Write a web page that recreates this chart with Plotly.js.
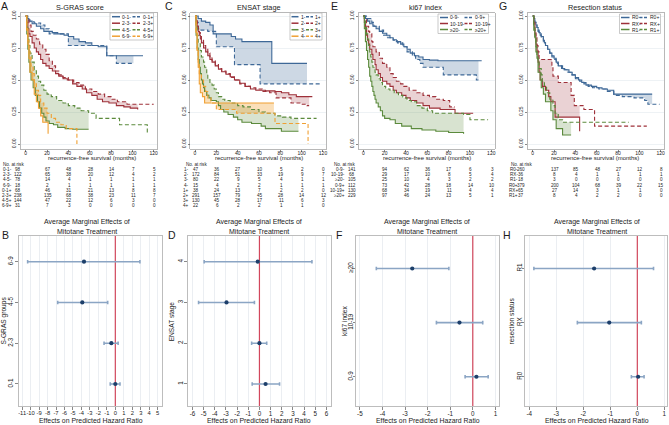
<!DOCTYPE html>
<html><head><meta charset="utf-8">
<script src="https://cdn.plot.ly/plotly-3.0.1.min.js"></script>
<style>html,body{margin:0;padding:0;background:#fff}#chart{width:669px;height:425px}</style>
</head><body><div id="chart"></div>
<script>
// ---------------- DATA ----------------
const riskTimes = [0, 20, 40, 60, 80, 100, 120];
const survTicks = [0, 0.25, 0.5, 0.75, 1];
const survTickText = ['0.00', '0.25', '0.50', '0.75', '1.00'];

// A: S-GRAS score  (Kaplan-Meier [months, survival])
const sgrasGroups = ['0-1', '2-3', '4-5', '6-9'];
const km_sgras_01_m = [[0,1],[1,0.98],[3,0.96],[6,0.94],[10,0.92],[14,0.90],[17,0.88],[25,0.87],[30,0.86],[36,0.85],[40,0.84],[45,0.82],[50,0.80],[56,0.79],[62,0.77],[68,0.76],[76,0.69],[110,0.69]];
const km_sgras_01_p = [[0,1],[2,0.97],[4,0.955],[8,0.945],[14,0.93],[18,0.90],[22,0.86],[40,0.77],[76,0.69],[85,0.63],[101,0.63]];
const km_sgras_23_m = [[0,1],[1,0.95],[2,0.90],[3,0.86],[4,0.84],[6,0.79],[8,0.75],[10,0.72],[12,0.70],[14,0.66],[16,0.63],[19,0.61],[22,0.59],[25,0.57],[28,0.55],[31,0.53],[35,0.51],[39,0.50],[44,0.47],[48,0.45],[53,0.43],[57,0.40],[62,0.38],[67,0.35],[72,0.33],[78,0.32],[85,0.30],[92,0.29],[98,0.28],[105,0.27]];
const km_sgras_23_p = [[0,1],[1,0.97],[3,0.93],[5,0.88],[7,0.85],[10,0.82],[13,0.78],[16,0.74],[19,0.70],[22,0.65],[25,0.61],[28,0.57],[31,0.54],[35,0.52],[40,0.50],[45,0.48],[50,0.46],[56,0.43],[62,0.41],[68,0.39],[74,0.37],[80,0.35],[86,0.33],[95,0.31],[120,0.31]];
const km_sgras_45_m = [[0,1],[1,0.86],[2,0.74],[3,0.64],[4,0.56],[5,0.50],[7,0.44],[9,0.38],[11,0.33],[13,0.28],[15,0.24],[17,0.21],[19,0.18],[22,0.16],[26,0.15],[30,0.13],[37,0.12],[44,0.115],[59,0.115]];
const km_sgras_45_p = [[0,1],[1,0.92],[2,0.84],[3,0.77],[4,0.71],[6,0.64],[8,0.58],[10,0.53],[12,0.49],[14,0.46],[17,0.42],[20,0.39],[24,0.37],[29,0.34],[35,0.32],[40,0.30],[46,0.28],[52,0.26],[59,0.24],[66,0.20],[88,0.15],[114,0.08],[115,0.08]];
const km_sgras_69_m = [[0,1],[1,0.89],[2,0.78],[3,0.67],[4,0.56],[6,0.50],[8,0.39],[10,0.33],[12,0.28],[14,0.22],[16,0.17],[21,0.08]];
const km_sgras_69_p = [[0,1],[1,0.90],[2,0.81],[3,0.74],[4,0.68],[5,0.61],[7,0.55],[8,0.48],[10,0.42],[12,0.38],[14,0.32],[17,0.28],[20,0.24],[24,0.20],[28,0.17],[33,0.15],[38,0.12],[48,0.12],[48,0]];
const riskLabels_sgras = ['0-1-', '2-3-', '4-5-', '6-9-', '0-1+', '2-3+', '4-5+', '6-9+'];
const risk_sgras = [[98,67,48,28,14,7,5],[122,65,38,20,12,4,2],[78,14,4,1,1,1,1],[18,2,1,1,1,1,1],[68,46,31,21,13,8,8],[238,135,68,38,23,11,7],[144,47,22,12,6,3,0],[31,7,3,0,0,0,0]];

// C: ENSAT stage
const ensatGroups = ['1', '2', '3', '4'];
const km_ensat_1_m = [[0,1],[3,0.98],[6,0.96],[10,0.95],[14,0.93],[17,0.86],[34,0.84],[38,0.82],[44,0.80],[72,0.63],[105,0.63]];
const km_ensat_1_p = [[0,1],[1,0.95],[3,0.89],[12,0.88],[20,0.76],[37,0.62],[61,0.47],[119,0.47]];
const km_ensat_2_m = [[0,1],[1,0.96],[2,0.92],[3,0.88],[4,0.85],[5,0.82],[6,0.79],[8,0.75],[10,0.72],[12,0.69],[14,0.66],[16,0.64],[19,0.61],[22,0.585],[25,0.565],[29,0.545],[33,0.525],[37,0.50],[42,0.475],[47,0.45],[52,0.43],[57,0.42],[66,0.415],[75,0.41],[81,0.40],[88,0.385],[95,0.37],[110,0.37]];
const km_ensat_2_p = [[0,1],[1,0.97],[2,0.93],[3,0.90],[4,0.87],[5,0.84],[6,0.81],[8,0.77],[10,0.74],[12,0.71],[14,0.68],[16,0.65],[19,0.62],[22,0.59],[25,0.57],[29,0.55],[33,0.52],[37,0.50],[42,0.47],[47,0.45],[52,0.44],[57,0.43],[63,0.41],[70,0.40],[76,0.36],[90,0.32],[100,0.31],[105,0.30],[107,0.30]];
const km_ensat_3_m = [[0,1],[1,0.85],[2,0.75],[3,0.66],[4,0.60],[5,0.55],[6,0.50],[7,0.47],[8,0.44],[9,0.41],[11,0.38],[13,0.36],[15,0.34],[20,0.33],[22,0.30],[24,0.27],[27,0.25],[31,0.23],[36,0.21],[40,0.19],[44,0.17],[53,0.16],[62,0.14],[66,0.12],[81,0.10],[97,0.10]];
const km_ensat_3_p = [[0,1],[1,0.92],[2,0.85],[3,0.79],[5,0.73],[6,0.68],[8,0.64],[9,0.60],[11,0.55],[12,0.51],[14,0.48],[16,0.46],[18,0.43],[20,0.40],[22,0.37],[25,0.35],[28,0.34],[33,0.32],[40,0.30],[45,0.29],[52,0.27],[60,0.25],[66,0.24],[75,0.22],[82,0.21],[90,0.20],[114,0.20]];
const km_ensat_4_m = [[0,1],[1,0.87],[2,0.73],[3,0.60],[4,0.47],[5,0.40],[7,0.37],[9,0.32],[74,0.32]];
const km_ensat_4_p = [[0,1],[1,0.86],[2,0.73],[3,0.64],[4,0.55],[6,0.50],[8,0.45],[10,0.41],[12,0.36],[15,0.32],[20,0.27],[39,0.24],[75,0.16],[106,0.16],[106,0]];
const riskLabels_ensat = ['1-', '2-', '3-', '4-', '1+', '2+', '3+', '4+'];
const risk_ensat = [[47,36,27,10,5,2,0],[172,84,51,33,19,9,7],[80,22,9,5,4,1,1],[15,4,2,2,1,1,1],[38,24,13,7,2,2,0],[291,157,79,45,28,14,12],[130,45,28,17,11,6,3],[22,6,2,2,1,1,0]];

// E: ki67 index
const ki67Groups = ['0-9', '10-19', '≥20'];
const km_ki67_09_m = [[0,1],[2,0.98],[4,0.96],[6,0.94],[9,0.92],[12,0.90],[15,0.88],[18,0.865],[22,0.85],[25,0.83],[28,0.815],[31,0.80],[35,0.78],[38,0.76],[41,0.74],[44,0.71],[48,0.69],[52,0.68],[56,0.66],[62,0.655],[70,0.65],[111,0.65]];
const km_ki67_09_p = [[0,1],[3,0.98],[8,0.95],[10,0.92],[15,0.89],[19,0.85],[22,0.83],[28,0.81],[32,0.79],[37,0.76],[41,0.72],[46,0.69],[49,0.66],[53,0.63],[56,0.60],[75,0.54],[106,0.50],[108,0.50]];
const km_ki67_1019_m = [[0,1],[1,0.95],[2,0.90],[3,0.85],[4,0.81],[5,0.78],[6,0.74],[8,0.70],[9,0.66],[11,0.62],[12,0.58],[14,0.55],[16,0.52],[18,0.49],[22,0.47],[25,0.45],[28,0.42],[31,0.40],[36,0.38],[40,0.36],[44,0.34],[50,0.32],[56,0.30],[62,0.28],[72,0.27],[86,0.24],[103,0.24]];
const km_ki67_1019_p = [[0,1],[1,0.97],[3,0.92],[5,0.88],[6,0.86],[8,0.80],[9,0.76],[12,0.72],[15,0.67],[18,0.63],[22,0.60],[25,0.55],[28,0.52],[31,0.49],[35,0.47],[38,0.45],[43,0.42],[50,0.40],[56,0.38],[62,0.37],[68,0.35],[75,0.34],[81,0.29],[86,0.29]];
const km_ki67_20_m = [[0,1],[1,0.90],[2,0.80],[3,0.73],[4,0.66],[5,0.60],[6,0.53],[7,0.49],[8,0.45],[9,0.41],[10,0.38],[11,0.35],[12,0.32],[14,0.29],[16,0.26],[18,0.22],[20,0.20],[25,0.19],[30,0.16],[36,0.14],[45,0.12],[55,0.11],[68,0.10],[80,0.09],[94,0.08]];
const km_ki67_20_p = [[0,1],[1,0.96],[2,0.91],[3,0.86],[4,0.82],[5,0.77],[6,0.72],[7,0.68],[8,0.64],[9,0.60],[11,0.56],[12,0.54],[14,0.51],[16,0.48],[18,0.45],[21,0.43],[25,0.42],[29,0.40],[33,0.38],[37,0.36],[41,0.34],[45,0.33],[50,0.30],[55,0.28],[60,0.26],[65,0.24],[94,0.23],[100,0.19],[117,0.19]];
const riskLabels_ki67 = ['0-9-', '10-19-', '≥20-', '0-9+', '10-19+', '≥20+'];
const risk_ki67 = [[141,94,62,36,17,6,3],[68,29,17,10,8,5,4],[105,25,10,4,3,2,2],[112,73,42,28,18,14,10],[130,68,34,19,11,4,4],[229,97,46,24,13,5,1]];

// G: Resection status
const resecGroups = ['R0', 'RX', 'R1'];
const km_resec_r0_m = [[0,1],[1,0.98],[2,0.95],[3,0.93],[4,0.91],[5,0.89],[6,0.87],[7,0.85],[8,0.84],[10,0.81],[11,0.79],[12,0.77],[14,0.74],[16,0.71],[18,0.69],[20,0.67],[22,0.64],[24,0.61],[27,0.59],[30,0.58],[34,0.56],[37,0.54],[40,0.52],[43,0.50],[46,0.48],[50,0.46],[55,0.45],[60,0.44],[65,0.43],[70,0.42],[76,0.39],[112,0.39]];
const km_resec_r0_p = [[0,1],[1,0.97],[2,0.95],[3,0.93],[4,0.91],[5,0.88],[6,0.86],[8,0.83],[10,0.80],[12,0.77],[14,0.74],[16,0.71],[18,0.68],[20,0.66],[22,0.63],[24,0.61],[28,0.58],[32,0.56],[36,0.54],[40,0.51],[44,0.49],[48,0.47],[52,0.45],[56,0.44],[62,0.43],[70,0.41],[76,0.38],[84,0.37],[95,0.36],[105,0.34],[108,0.31],[119,0.31]];
const km_resec_rx_m = [[0,1],[1,0.94],[2,0.86],[3,0.78],[4,0.72],[5,0.64],[6,0.56],[7,0.50],[9,0.45],[12,0.42],[15,0.37],[17,0.33],[21,0.21],[44,0.21],[44,0.10]];
const km_resec_rx_p = [[0,1],[1,0.95],[2,0.89],[3,0.83],[4,0.77],[5,0.72],[6,0.66],[18,0.60],[19,0.53],[24,0.48],[36,0.38],[39,0.30],[48,0.27],[58,0.14],[107,0.14]];
const km_resec_r1_m = [[0,1],[1,0.89],[2,0.83],[3,0.72],[4,0.67],[5,0.56],[7,0.50],[8,0.44],[10,0.39],[12,0.33],[17,0.26],[19,0.19],[22,0.12],[28,0.07],[36,0.07]];
const km_resec_r1_p = [[0,1],[1,0.92],[2,0.84],[3,0.76],[4,0.70],[5,0.65],[6,0.59],[8,0.54],[9,0.49],[11,0.45],[13,0.40],[16,0.35],[19,0.30],[21,0.24],[24,0.19],[28,0.17],[90,0.17]];
const riskLabels_resec = ['R0-', 'RX-', 'R1-', 'R0+', 'RX+', 'R1+'];
const risk_resec = [[260,137,85,48,27,12,8],[36,8,4,1,1,1,1],[18,3,0,0,0,0,0],[379,200,104,68,39,22,15],[65,27,14,3,1,1,0],[37,8,4,2,2,0,0]];

// Average marginal effects of mitotane treatment
const ame_sgras_cats = ['0-1', '2-3', '4-5', '6-9'];
const ame_sgras_est = [0.0, -0.47, -3.9, -3.7];
const ame_sgras_lo = [-0.6, -1.33, -6.8, -10.35];
const ame_sgras_hi = [0.55, 0.33, -0.9, 2.9];
const ame_sgras_xticks = [-11,-10,-9,-8,-7,-6,-5,-4,-3,-2,-1,0,1,2,3,4,5];

const ame_ensat_cats = ['1', '2', '3', '4'];
const ame_ensat_est = [0.55, 0.0, -2.95, -0.15];
const ame_ensat_lo = [-0.65, -0.7, -5.45, -4.95];
const ame_ensat_hi = [1.8, 0.65, -0.45, 4.7];
const ame_ensat_xticks = [-6,-5,-4,-3,-2,-1,0,1,2,3,4,5,6];

const ame_ki67_cats = ['0-9', '10-19', '≥20'];
const ame_ki67_est = [0.16, -0.59, -2.68];
const ame_ki67_lo = [-0.34, -1.61, -4.27];
const ame_ki67_hi = [0.68, 0.44, -1.06];
const ame_ki67_xticks = [-5,-4,-3,-2,-1,0,1];

const ame_resec_cats = ['R0', 'RX', 'R1'];
const ame_resec_est = [0.03, -1.04, -1.6];
const ame_resec_lo = [-0.22, -2.22, -3.83];
const ame_resec_hi = [0.25, 0.15, 0.6];
const ame_resec_xticks = [-4,-3,-2,-1,0,1];

// ---------------- STYLE / LAYOUT ----------------
const W = 669, H = 425;
const FONT = '"Liberation Sans", Arial, sans-serif';
const TXT = '#1c1c1c';
const px = v => v / W;
const py = v => 1 - v / H;
const colors = ['#3e6897', '#9e3039', '#5b8a3c', '#f0a033'];
const fills = ['rgba(62,104,151,0.26)', 'rgba(158,48,57,0.22)', 'rgba(91,138,60,0.24)', 'rgba(240,160,51,0.34)'];

const topPanels = [
  { letter: 'A', letterX: 4.5, title: 'S-GRAS score', titleX: 80, xTitleX: 92, dom: [21, 157],
    groups: sgrasGroups,
    curves: [[km_sgras_01_m, km_sgras_01_p], [km_sgras_23_m, km_sgras_23_p], [km_sgras_45_m, km_sgras_45_p], [km_sgras_69_m, km_sgras_69_p]],
    leg: { box: [110, 153.5, 13, 40], y0: 16.7, dy: 6.5, s: [112, 120], ts: 121.2, d: [132.5, 140.5], td: 141.7 },
    riskLabels: riskLabels_sgras, risk: risk_sgras, tab: { headX: 1.5, labelRight: 12.5, firstShift: -8 } },
  { letter: 'C', letterX: 169, title: 'ENSAT stage', titleX: 258.5, xTitleX: 259, dom: [190.3, 326.3],
    groups: ensatGroups,
    curves: [[km_ensat_1_m, km_ensat_1_p], [km_ensat_2_m, km_ensat_2_p], [km_ensat_3_m, km_ensat_3_p], [km_ensat_4_m, km_ensat_4_p]],
    leg: { box: [290, 322, 13, 40], y0: 16.7, dy: 6.5, s: [291.5, 298.5], ts: 299.5, d: [306, 313], td: 314 },
    riskLabels: riskLabels_ensat, risk: risk_ensat, tab: { headX: 185, labelRight: 189.5, firstShift: 0.5 } },
  { letter: 'E', letterX: 334, title: 'ki67 index', titleX: 425, xTitleX: 427, dom: [358.6, 494.6],
    groups: ki67Groups,
    curves: [[km_ki67_09_m, km_ki67_09_p], [km_ki67_1019_m, km_ki67_1019_p], [km_ki67_20_m, km_ki67_20_p]],
    leg: { box: [438, 488.5, 14, 33.5], y0: 17.5, dy: 6, s: [440, 448], ts: 449.3, d: [464.5, 472.5], td: 473.8 },
    riskLabels: riskLabels_ki67, risk: risk_ki67, tab: { headX: 333, labelRight: 345.5, firstShift: -11 } },
  { letter: 'G', letterX: 503, title: 'Resection status', titleX: 595, xTitleX: 594.5, dom: [528, 664],
    groups: resecGroups,
    curves: [[km_resec_r0_m, km_resec_r0_p], [km_resec_rx_m, km_resec_rx_p], [km_resec_r1_m, km_resec_r1_p]],
    leg: { box: [619.5, 660.5, 14, 33.5], y0: 17.5, dy: 6, s: [621, 629.5], ts: 630.8, d: [639.5, 648], td: 649.3 },
    riskLabels: riskLabels_resec, risk: risk_resec, tab: { headX: 509.5, labelRight: 518.5, firstShift: -11.5 } }
];

const bottomPanels = [
  { letter: 'B', letterX: 5, titleX: 87, xTitleX: 90.5, yTitle: 'S-GRAS groups', yTitleX: 3.6, dom: [19, 162], xr: [-11.37, 5.51], yr: [0.46, 4.63],
    xtf: 5.8, ylen: 3, ystand: -1,
    cats: ame_sgras_cats, est: ame_sgras_est, lo: ame_sgras_lo, hi: ame_sgras_hi, xticks: ame_sgras_xticks },
  { letter: 'D', letterX: 172, titleX: 259, xTitleX: 259, yTitle: 'ENSAT stage', yTitleX: 172.3, dom: [188.3, 330.7], xr: [-6.37, 6.38], yr: [0.46, 4.63],
    xtf: 6.3, ylen: 3, ystand: -1,
    cats: ame_ensat_cats, est: ame_ensat_est, lo: ame_ensat_lo, hi: ame_ensat_hi, xticks: ame_ensat_xticks },
  { letter: 'F', letterX: 339, titleX: 427, xTitleX: 428, yTitle: 'ki67 index', yTitleX: 344, dom: [356, 499], xr: [-5.17, 1.16], yr: [0.46, 3.6],
    xtf: 6.3, ylen: 2, ystand: -3,
    cats: ame_ki67_cats, est: ame_ki67_est, lo: ame_ki67_lo, hi: ame_ki67_hi, xticks: ame_ki67_xticks },
  { letter: 'H', letterX: 507, titleX: 597, xTitleX: 597, yTitle: 'resection status', yTitleX: 510.5, dom: [524.7, 667.3], xr: [-4.17, 1.11], yr: [0.46, 3.6],
    xtf: 6.3, ylen: 2, ystand: -3,
    cats: ame_resec_cats, est: ame_resec_est, lo: ame_resec_lo, hi: ame_resec_hi, xticks: ame_resec_xticks }
];

const data = [];
const annotations = [];
const shapes = [];
const layout = {
  width: W, height: H, margin: { l: 0, r: 0, t: 0, b: 0, pad: 0 },
  paper_bgcolor: '#ffffff', plot_bgcolor: '#ffffff', showlegend: false,
  font: { family: FONT, color: TXT, size: 6 }, annotations, shapes
};

function note(x, y, text, size, opts) {
  annotations.push(Object.assign({ xref: 'paper', yref: 'paper', x: x, y: y, text: text, showarrow: false,
    xanchor: 'center', yanchor: 'middle', borderpad: 0, font: { size: size, color: TXT, family: FONT } }, opts || {}));
}

// part of a step curve up to time tEnd (last value carried forward)
function upTo(curve, tEnd) {
  const pts = curve.filter(d => d[0] <= tEnd);
  const last = pts[pts.length - 1];
  if (last[0] < tEnd) pts.push([tEnd, last[1]]);
  return pts;
}

// ---- Kaplan-Meier panels ----
topPanels.forEach((p, k) => {
  const id = k === 0 ? '' : String(k + 1);
  const xa = 'x' + id, ya = 'y' + id;
  // shaded difference between "-" and "+" curves, over their common follow-up
  p.curves.forEach((pair, g) => {
    const m = pair[0], pl = pair[1];
    const tEnd = Math.min(m[m.length - 1][0], pl[pl.length - 1][0]);
    const a = upTo(m, tEnd), b = upTo(pl, tEnd);
    data.push({ type: 'scatter', mode: 'lines', xaxis: xa, yaxis: ya, x: a.map(d => d[0]), y: a.map(d => d[1]),
      hoverinfo: 'skip', line: { width: 0, shape: 'hv', color: colors[g] } });
    data.push({ type: 'scatter', mode: 'lines', xaxis: xa, yaxis: ya, x: b.map(d => d[0]), y: b.map(d => d[1]),
      hoverinfo: 'skip', line: { width: 0, shape: 'hv', color: colors[g] }, fill: 'tonexty', fillcolor: fills[g] });
  });
  p.curves.forEach((pair, g) => {
    const m = pair[0], pl = pair[1];
    data.push({ type: 'scatter', mode: 'lines', xaxis: xa, yaxis: ya,
      x: m.map(d => d[0]), y: m.map(d => d[1]), hoverinfo: 'skip',
      line: { color: colors[g], width: 1.1, shape: 'hv' } });
    data.push({ type: 'scatter', mode: 'lines', xaxis: xa, yaxis: ya,
      x: pl.map(d => d[0]), y: pl.map(d => d[1]), hoverinfo: 'skip',
      line: { color: colors[g], width: 1.1, shape: 'hv', dash: '4px,2.5px' } });
  });
  layout['xaxis' + id] = {
    domain: [px(p.dom[0]), px(p.dom[1])], range: [-4.41, 123.1], anchor: ya,
    tickvals: riskTimes, ticktext: riskTimes.map(String), tickangle: 0, ticks: 'outside', ticklen: 2, tickwidth: 0.7, tickcolor: '#555',
    ticklabelstandoff: -3,
    tickfont: { size: 5, color: TXT, family: FONT }, showgrid: false, zeroline: false,
    showline: true, mirror: true, linecolor: '#a6a6a6', linewidth: 0.8, fixedrange: true
  };
  layout['yaxis' + id] = {
    domain: [py(149), py(13)], range: [-0.039, 1.0234], anchor: xa,
    tickvals: survTicks, ticktext: survTickText, tickangle: -90, ticks: 'outside', ticklen: 2, tickwidth: 0.7, tickcolor: '#555',
    tickfont: { size: 5, color: TXT, family: FONT }, showgrid: true, gridcolor: '#e3e9ef', gridwidth: 0.6,
    zeroline: false, showline: true, mirror: true, linecolor: '#a6a6a6', linewidth: 0.8, fixedrange: true
  };
  // titles
  note(px(p.letterX), py(6), p.letter, 10.5);
  note(px(p.titleX), py(7), p.title, 7.3);
  note(px(p.xTitleX), py(158), 'recurrence-free survival (months)', 6);
  // legend
  const L = p.leg;
  shapes.push({ type: 'rect', xref: 'paper', yref: 'paper', x0: px(L.box[0]), x1: px(L.box[1]), y0: py(L.box[3]), y1: py(L.box[2]),
    line: { color: '#b3b3b3', width: 0.7 }, fillcolor: '#ffffff', layer: 'above' });
  p.groups.forEach((nm, g) => {
    const yy = py(L.y0 + g * L.dy);
    shapes.push({ type: 'line', xref: 'paper', yref: 'paper', x0: px(L.s[0]), x1: px(L.s[1]), y0: yy, y1: yy,
      line: { color: colors[g], width: 1.5 }, layer: 'above' });
    shapes.push({ type: 'line', xref: 'paper', yref: 'paper', x0: px(L.d[0]), x1: px(L.d[1]), y0: yy, y1: yy,
      line: { color: colors[g], width: 1.5, dash: '3px,1.5px' }, layer: 'above' });
    note(px(L.ts), yy, nm + '-', 5, { xanchor: 'left' });
    note(px(L.td), yy, nm + '+', 5, { xanchor: 'left' });
  });
  // number at risk table
  const T = p.tab;
  note(px(T.headX), py(164), 'No. at risk', 4.6, { xanchor: 'left' });
  p.riskLabels.forEach((lab, r) => {
    const yy = py(169.5 + r * 5.2);
    note(px(T.labelRight), yy, lab, 4.6, { xanchor: 'right' });
    p.risk[r].forEach((n, c) => {
      annotations.push({ xref: xa, yref: 'paper', x: riskTimes[c], y: yy, text: String(n), showarrow: false,
        xanchor: 'center', yanchor: 'middle', borderpad: 0, xshift: c === 0 ? T.firstShift : 0.8,
        font: { size: 4.6, color: TXT, family: FONT } });
    });
  });
});

// ---- Marginal effects panels ----
bottomPanels.forEach((p, k) => {
  const id = String(k + 5);
  const xa = 'x' + id, ya = 'y' + id;
  const yv = p.cats.map((_, i) => i + 1);
  // reference line at zero (drawn first so it sits under the estimates)
  data.push({ type: 'scatter', mode: 'lines', xaxis: xa, yaxis: ya, x: [0, 0], y: p.yr, hoverinfo: 'skip',
    line: { color: '#d2475c', width: 1.2 } });
  data.push({ type: 'scatter', mode: 'markers', xaxis: xa, yaxis: ya, x: p.est, y: yv, hoverinfo: 'skip',
    marker: { color: '#1d3f6a', size: 4.2, symbol: 'circle' },
    error_x: { type: 'data', symmetric: false, array: p.hi.map((h, i) => h - p.est[i]),
      arrayminus: p.est.map((e, i) => e - p.lo[i]), color: '#8ba5c4', thickness: 1.6, width: 1.8 } });
  layout['xaxis' + id] = {
    domain: [px(p.dom[0]), px(p.dom[1])], range: p.xr, anchor: ya,
    tickvals: p.xticks, ticktext: p.xticks.map(String), tickangle: 0, ticks: 'outside', ticklen: 3, tickwidth: 0.7, tickcolor: '#555',
    ticklabelstandoff: -2,
    tickfont: { size: p.xtf, color: TXT, family: FONT }, showgrid: true, gridcolor: '#e2e7ed', gridwidth: 0.7,
    zeroline: false, showline: true, mirror: true, linecolor: '#bdbdbd', linewidth: 1, fixedrange: true
  };
  layout['yaxis' + id] = {
    domain: [py(406), py(236)], range: p.yr, anchor: xa,
    tickvals: yv, ticktext: p.cats, tickangle: -90, ticks: 'outside', ticklen: p.ylen, tickwidth: 0.7, tickcolor: '#555',
    ticklabelstandoff: p.ystand,
    tickfont: { size: 6.3, color: TXT, family: FONT }, showgrid: false, zeroline: false,
    showline: true, mirror: true, linecolor: '#bdbdbd', linewidth: 1, fixedrange: true
  };
  note(px(p.letterX), py(235), p.letter, 10.5);
  note(px(p.titleX), py(226.6), 'Average Marginal Effects of', 7, { yanchor: 'bottom' });
  note(px(p.titleX), py(226.6), 'Mitotane Treatment', 7, { yanchor: 'top' });
  note(px(p.xTitleX), py(420.5), 'Effects on Predicted Hazard Ratio', 6.9);
  note(px(p.yTitleX), py(321), p.yTitle, 6.6, { textangle: -90 });
});

Plotly.newPlot('chart', data, layout, { staticPlot: true, displayModeBar: false });
</script></body></html>
